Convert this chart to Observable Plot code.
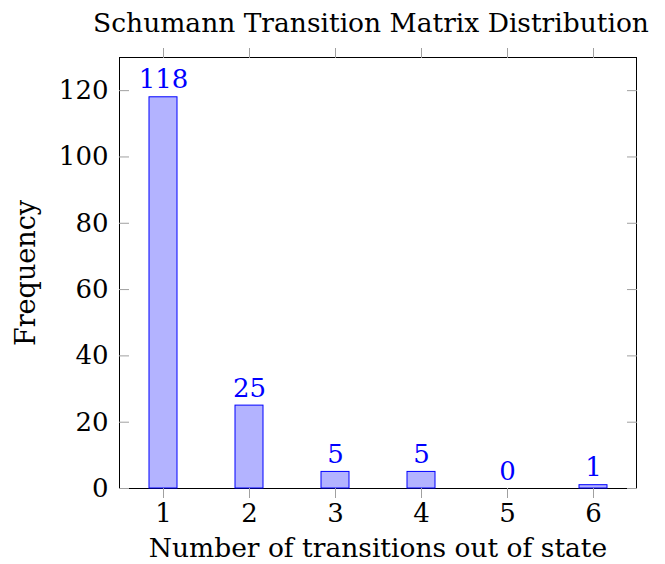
<!DOCTYPE html>
<html>
<head>
<meta charset="utf-8">
<script src="https://cdn.jsdelivr.net/npm/d3@7"></script>
<script src="https://cdn.jsdelivr.net/npm/@observablehq/plot@0.6"></script>
<style>
  html, body { margin: 0; padding: 0; background: #fff; }
</style>
</head>
<body>
<div id="chart"></div>
<script>
const categories = [1, 2, 3, 4, 5, 6];
const frequencies = [118, 25, 5, 5, 0, 1];
const yTicks = [0, 20, 40, 60, 80, 100, 120];
const title = "Schumann Transition Matrix Distribution";
const xLabel = "Number of transitions out of state";
const yLabel = "Frequency";

const data = categories.map((n, i) => ({n, freq: frequencies[i]}));
const FONT = "DejaVu Serif";
const tickColor = "#a0a0a0";

const chart = Plot.plot({
  width: 665,
  height: 564,
  marginLeft: 119,
  marginRight: 29,
  marginTop: 57,
  marginBottom: 76,
  style: {fontFamily: FONT, fontSize: "22px", background: "white", color: "black"},
  x: {type: "band", domain: categories, paddingInner: 0.675, paddingOuter: 0.3375, align: 0.5},
  y: {domain: [0, 130]},
  marks: [
    Plot.frame({stroke: "black", strokeWidth: 1}),
    Plot.barY(data, {x: "n", y: "freq", fill: "#b3b3ff", stroke: "#0000ff", strokeWidth: 1}),
    Plot.text(data, {x: "n", y: "freq", text: d => String(d.freq), fill: "#0000ff", lineAnchor: "bottom", dy: -9, fontSize: 26}),
    Plot.axisX({anchor: "bottom", tickSize: 10, stroke: tickColor, tickPadding: 5, fontSize: 26, fill: "black", label: null}),
    Plot.axisX({anchor: "top", tickSize: 10, stroke: tickColor, text: null, label: null}),
    Plot.axisY({anchor: "left", ticks: yTicks, tickSize: 0, tickPadding: 11, fontSize: 26, fill: "black", label: null}),
    Plot.axisY({anchor: "left", ticks: yTicks, tickSize: 10, dx: 10, stroke: tickColor, text: null, label: null}),
    Plot.axisY({anchor: "right", ticks: yTicks, tickSize: 10, dx: -10, stroke: tickColor, text: null, label: null}),
    Plot.text([xLabel], {frameAnchor: "bottom", text: d => d, dy: 68, fontSize: 26.5, fill: "black"}),
    Plot.text([yLabel], {frameAnchor: "left", text: d => d, rotate: -90, textAnchor: "middle", dx: -93, fontSize: 27, fill: "black"}),
    Plot.text([title], {frameAnchor: "top", text: d => d, dy: -44, dx: -7, fontSize: 26.5, fill: "black"})
  ]
});
document.getElementById("chart").appendChild(chart);
</script>
</body>
</html>
